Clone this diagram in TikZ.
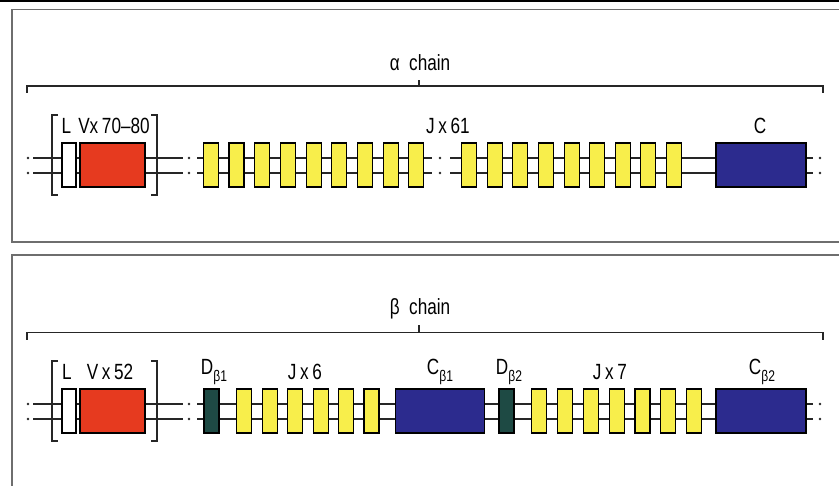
\documentclass[tikz,border=0pt]{standalone}
\usepackage{fontspec}
\setmainfont{Liberation Sans}[FakeStretch=0.78]
\definecolor{vred}{HTML}{E63A1F}
\definecolor{jyel}{HTML}{F8EE4B}
\definecolor{cblue}{HTML}{2C2B8E}
\definecolor{dgreen}{HTML}{1E4A44}
\definecolor{panelgray}{HTML}{6E6E6E}
\definecolor{ink}{HTML}{262626}
\newcommand{\sbt}[1]{\raisebox{-0.32em}{\fontsize{15.5}{17}\selectfont #1}}
\begin{document}
\begin{tikzpicture}[x=1pt,y=-1pt,
  panel/.style={draw=panelgray,line width=1.5pt},
  span/.style={draw=ink,line width=1.4pt},
  backbone/.style={draw=ink,line width=1.3pt},
  brk/.style={draw=ink,line width=1.4pt},
  gene/.style={draw=black,line width=1.1pt,inner sep=0pt,minimum height=44pt},
  lbox/.style={gene,fill=white,minimum width=14pt},
  vbox/.style={gene,fill=vred,minimum width=65pt},
  jbox/.style={gene,fill=jyel,minimum width=15pt},
  dbox/.style={gene,fill=dgreen,minimum width=15pt},
  cbox/.style={gene,fill=cblue,minimum width=90pt},
  lab/.style={inner sep=0pt,font=\fontsize{22}{24}\selectfont,text=black},
  dotc/.style={fill=ink}
]
\useasboundingbox (0,0) rectangle (839,486);
\clip (0,0) rectangle (839,486);
\fill[black] (0,0) rectangle (839,2.5);
% panels
\draw[panel] (12,9.5) rectangle (860,242);
\draw[panel] (12,255) rectangle (860,520);

% ===== alpha chain =====
\node[lab] (atitle) at (420,63) {α\ \ chain};
\coordinate (aspL) at (27,93);
\coordinate (aspR) at (823,93);
\coordinate (aspM) at (419,86);
\draw[span] (aspL) -- (27,86) -- (823,86) -- (aspR);
\draw[span] (aspM) -- (419,80);

\foreach \ly in {158,173}{
  \draw[backbone] (33,\ly) -- (183,\ly);
  \draw[backbone] (197,\ly) -- (432,\ly);
  \draw[backbone] (450,\ly) -- (813,\ly);
  \foreach \dx in {28,189,440,820}{ \fill[dotc] (\dx,\ly) circle (1.3); }
}
\node[lbox] (aL) at (69,165) {};
\node[vbox] (aV) at (112.5,165) {};
\foreach \k in {0,...,8}{ \node[jbox] (aJa\k) at ({210.8+25.7*\k},165) {}; }
\foreach \k in {0,...,8}{ \node[jbox] (aJb\k) at ({469.2+25.6*\k},165) {}; }
\node[cbox] (aC) at (761,165) {};
\draw[brk] (58,115) -- (52,115) -- (52,195) -- (58,195);
\draw[brk] (151,115) -- (157,115) -- (157,195) -- (151,195);
\node[lab] (aLl) at (66.5,126) {L};
\node[lab] (aVl) at (114,126) {Vx\,70–80};
\node[lab] (aJl) at (448,126) {J\,x\,61};
\node[lab] (aCl) at (760,126) {C};

% ===== beta chain =====
\node[lab] (btitle) at (420,309) {β\ \ chain};
\coordinate (bspL) at (27,340);
\coordinate (bspR) at (823,340);
\coordinate (bspM) at (419,332.5);
\draw[span] (bspL) -- (27,332.5) -- (823,332.5) -- (bspR);
\draw[span] (bspM) -- (419,325.5);

\foreach \ly in {404,419}{
  \draw[backbone] (33,\ly) -- (183,\ly);
  \draw[backbone] (197,\ly) -- (813,\ly);
  \foreach \dx in {28,189,820}{ \fill[dotc] (\dx,\ly) circle (1.3); }
}
\node[lbox] (bL) at (69,411) {};
\node[vbox] (bV) at (112.5,411) {};
\node[dbox] (bD1) at (211.5,411) {};
\foreach \k in {0,...,5}{ \node[jbox] (bJa\k) at ({244.2+25.46*\k},411) {}; }
\node[cbox,minimum width=89pt] (bC1) at (439.7,411) {};
\node[dbox] (bD2) at (506.5,411) {};
\foreach \k in {0,...,6}{ \node[jbox] (bJb\k) at ({539.2+25.83*\k},411) {}; }
\node[cbox] (bC2) at (761,411) {};
\draw[brk] (58,361) -- (52,361) -- (52,441) -- (58,441);
\draw[brk] (151,361) -- (157,361) -- (157,441) -- (151,441);
\node[lab] (bLl) at (67,372) {L};
\node[lab] (bVl) at (110,372) {V\,x\,52};
\node[lab] (bD1l) at (214,372) {D\sbt{β1}};
\node[lab] (bJal) at (305,372) {J\,x\,6};
\node[lab] (bC1l) at (440,372) {C\sbt{β1}};
\node[lab] (bD2l) at (509,372) {D\sbt{β2}};
\node[lab] (bJbl) at (610,372) {J\,x\,7};
\node[lab] (bC2l) at (762,372) {C\sbt{β2}};
\end{tikzpicture}
\end{document}
